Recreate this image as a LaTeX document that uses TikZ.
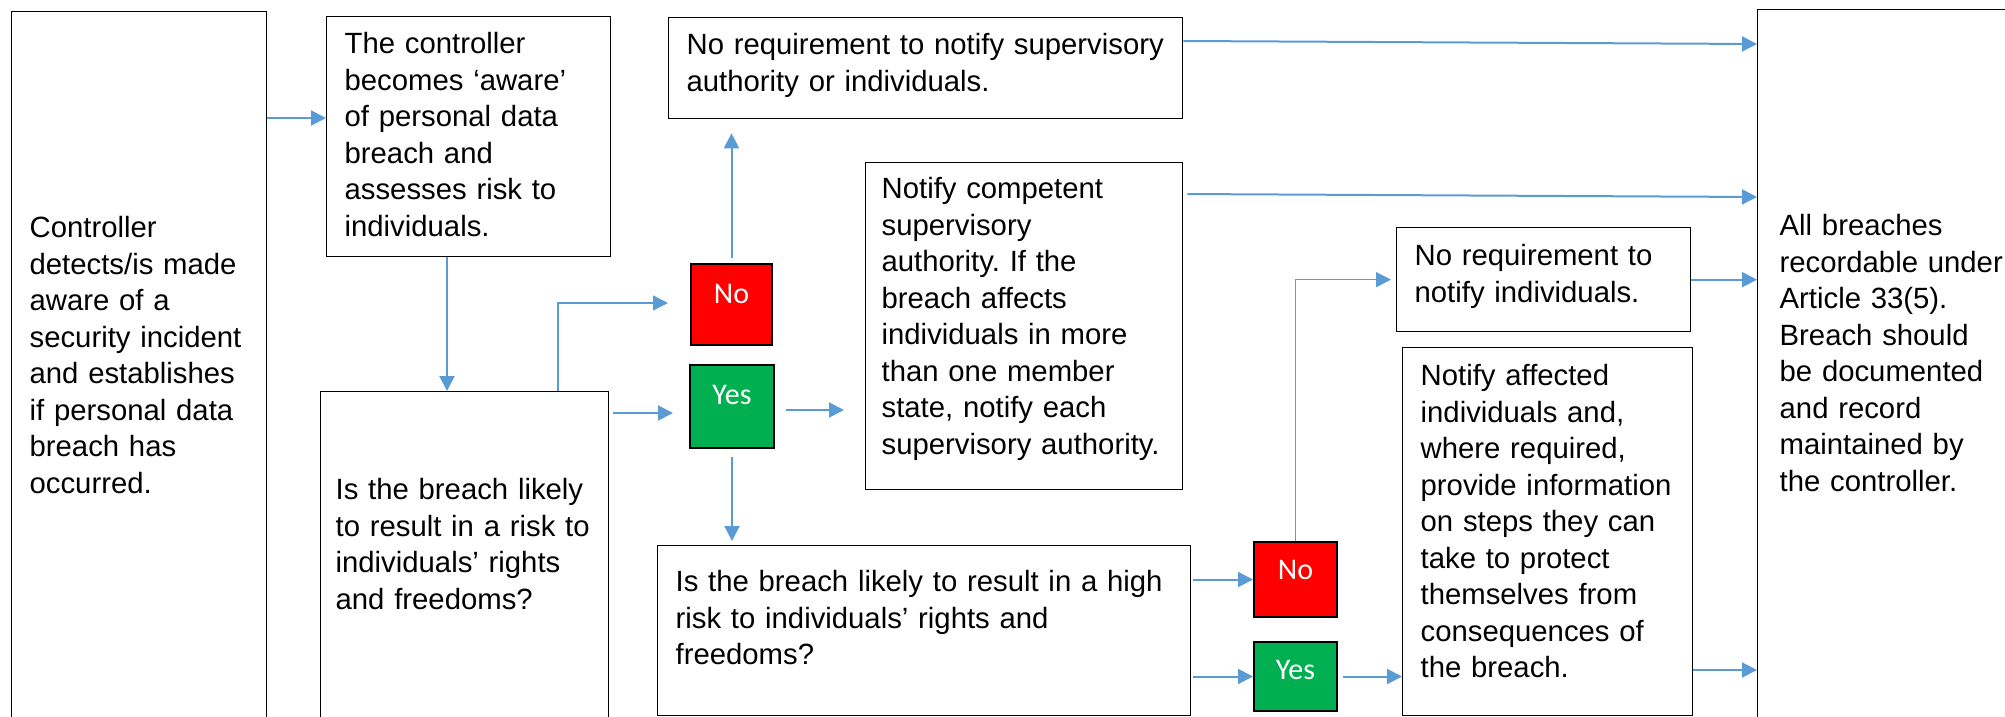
\documentclass[tikz,border=0pt]{standalone}
\usepackage{fontspec}
\setmainfont{Liberation Sans}
\newfontfamily\answerfont{Carlito}
\usetikzlibrary{arrows.meta}
\frenchspacing
\definecolor{flowblue}{HTML}{5B9BD5}
\definecolor{yesgreen}{HTML}{00B050}
\definecolor{nored}{HTML}{FF0000}
\tikzset{
  box/.style={draw, line width=1.3pt, anchor=north west, align=left,
    inner xsep=18pt, inner ysep=0pt, font=\fontsize{29.3pt}{36.5pt}\selectfont},
  answer/.style={draw, line width=2pt, anchor=north west, inner sep=0pt,
    text=white, font=\answerfont\fontsize{30pt}{36pt}\selectfont},
  arr/.style={draw=flowblue, line width=2pt, -{Triangle[length=15pt,width=15pt]}},
  arrthin/.style={arr, line width=1.3pt}
}
\begin{document}
\begin{tikzpicture}[x=1pt,y=-1pt]
    \useasboundingbox (0,0) rectangle (2005,717);
    \clip (0,0) rectangle (2005,717);
    \node[box, text width=219pt, text height=226pt, text depth=503pt] (detect) at (11,11)
      {Controller\\detects/is made\\aware of a\\security incident\\and establishes\\if personal data\\breach has\\occurred.};
    \node[box, text width=248pt, text height=37pt, text depth=203pt] (aware) at (326,16)
      {The controller\\becomes ‘aware’\\of personal data\\breach and\\assesses risk to\\individuals.};
    \node[box, inner xsep=15pt, text width=258pt, text height=108pt, text depth=241pt] (risk) at (320,391)
      {Is the breach likely\\to result in a risk to\\individuals’ rights\\and freedoms?};
    \node[box, text width=478pt, text height=37pt, text depth=64pt] (noreqall) at (668,17)
      {No requirement to notify supervisory\\authority or individuals.};
    \node[answer, fill=nored, minimum width=81pt, text height=39pt, text depth=42pt] (riskno) at (690,263) {No};
    \node[answer, fill=yesgreen, minimum width=84pt, text height=39pt, text depth=44pt] (riskyes) at (689,364) {Yes};
    \node[box, inner xsep=16pt, text width=285pt, text height=36pt, text depth=291pt] (notifysa) at (865,162)
      {Notify competent\\supervisory\\authority. If the\\breach affects\\individuals in more\\than one member\\state, notify each\\supervisory authority.};
    \node[box, text width=497pt, text height=46pt, text depth=124pt] (highrisk) at (657,545)
      {Is the breach likely to result in a high\\risk to individuals’ rights and\\freedoms?};
    \node[answer, fill=nored, minimum width=83pt, text height=37pt, text depth=38pt] (highno) at (1253,541) {No};
    \node[answer, fill=yesgreen, minimum width=83pt, text height=37pt, text depth=32pt] (highyes) at (1253,641) {Yes};
    \node[box, text width=258pt, text height=38pt, text depth=66pt] (noreqind) at (1396,227)
      {No requirement to\\notify individuals.};
    \node[box, text width=254pt, text height=38pt, text depth=330pt] (notifyind) at (1402,347)
      {Notify affected\\individuals and,\\where required,\\provide information\\on steps they can\\take to protect\\themselves from\\consequences of\\the breach.};
    \node[box, inner xsep=22pt, text width=244pt, text height=226pt, text depth=505pt] (record) at (1757,9)
      {All breaches\\recordable under\\Article 33(5).\\Breach should\\be documented\\and record\\maintained by\\the controller.};
    \draw[arr] (detect.east |- 0,118) -- (aware.west |- 0,118);
    \draw[arr] (aware.south -| 447,0) -- (risk.north -| 447,0);
    \draw[arrthin, shorten >=22pt] (risk.north -| 558,0) |- (riskno.west |- 0,303);
    \draw[arr, shorten <=4pt, shorten >=16pt] (risk.east |- 0,413) -- (riskyes.west |- 0,413);
    \draw[arr, shorten <=5pt, shorten >=14pt] (riskno.north) -- (noreqall.south -| riskno.north);
    \draw[arr, shorten <=11pt, shorten >=21pt] (riskyes.east |- 0,410) -- (notifysa.west |- 0,410);
    \draw[arr, shorten <=8pt, shorten >=4pt] (riskyes.south) -- (highrisk.north -| riskyes.south);
    \draw[arr] (noreqall.east |- 0,41) -- (record.west |- 0,44);
    \draw[arr, shorten <=4pt] (notifysa.east |- 0,194) -- (record.west |- 0,197);
    \draw[arr, shorten <=2pt] (highrisk.east |- highno.west) -- (highno.west);
    \draw[arr, shorten <=2pt] (highrisk.east |- highyes.west) -- (highyes.west);
    \draw[arrthin, shorten >=5pt] (highno.north) |- (noreqind.west);
    \draw[arr, shorten <=5pt] (highyes.east) -- (notifyind.west |- highyes.east);
    \draw[arr] (noreqind.east) -- (record.west |- noreqind.east);
    \draw[arr] (notifyind.east |- 0,670) -- (record.west |- 0,670);
\end{tikzpicture}
\end{document}
